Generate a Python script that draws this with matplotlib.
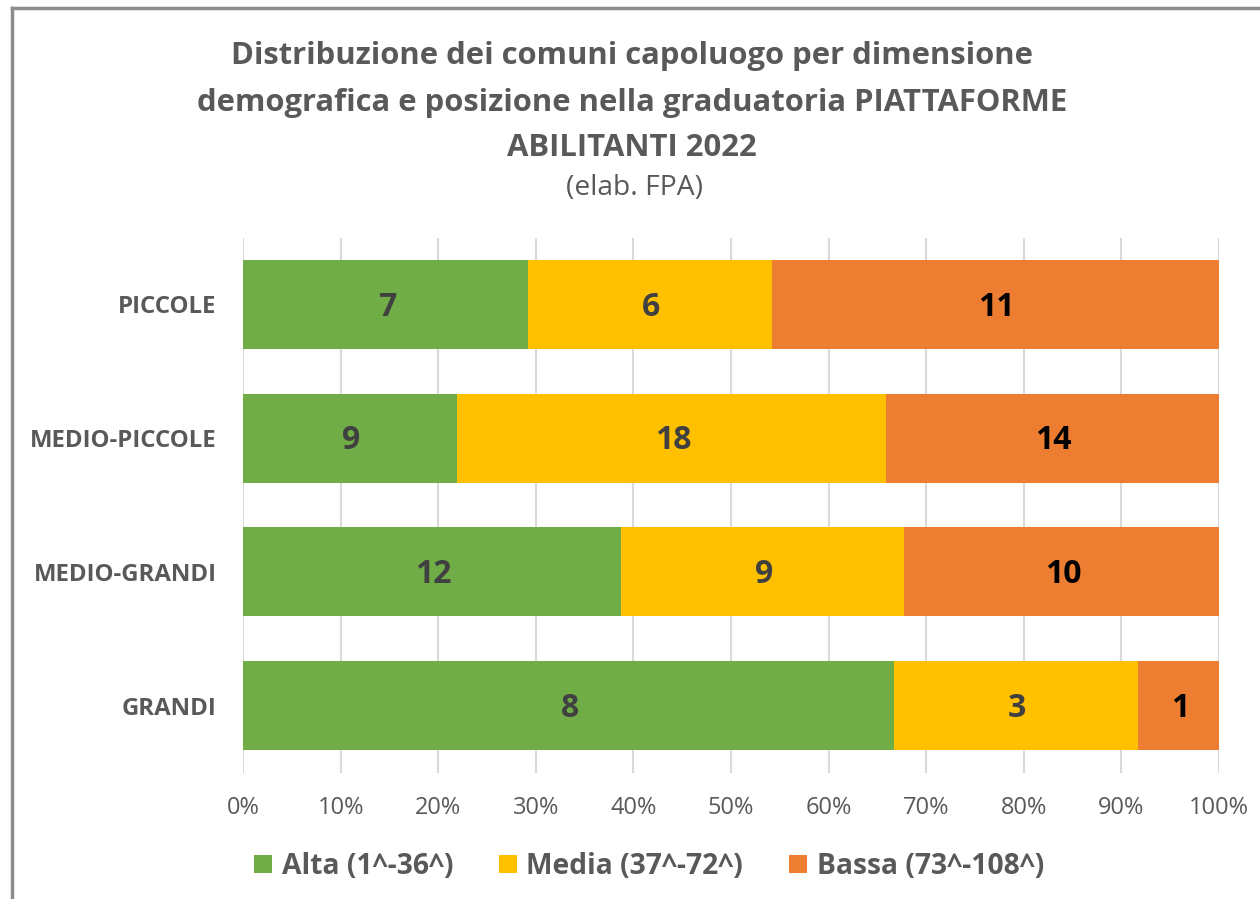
import matplotlib.pyplot as plt
from matplotlib.lines import Line2D
from matplotlib.ticker import PercentFormatter

plt.rcParams['font.family'] = ['Open Sans', 'DejaVu Sans']

categorie = ["PICCOLE", "MEDIO-PICCOLE", "MEDIO-GRANDI", "GRANDI"]
serie = ["Alta (1^-36^)", "Media (37^-72^)", "Bassa (73^-108^)"]
alta = [7, 9, 12, 8]
media = [6, 18, 9, 3]
bassa = [11, 14, 10, 1]

colori = ["#70AD47", "#FFC000", "#ED7D31"]
col_etichette = ["#404040", "#404040", "#000000"]
grigio = "#595959"

fig = plt.figure(figsize=(12.6, 8.99), dpi=100)
ax = fig.add_axes([0.1929, 0.1407, 0.7746, 0.5951])

totali = [a + m + b for a, m, b in zip(alta, media, bassa)]
pos = list(range(len(categorie)))
sinistra = [0.0] * len(categorie)
for nome, valori, col, col_t in zip(serie, [alta, media, bassa], colori, col_etichette):
    quote = [v / t for v, t in zip(valori, totali)]
    barre = ax.barh(pos, quote, left=sinistra, height=0.664, color=col, label=nome, zorder=3)
    testi = ax.bar_label(barre, labels=[str(v) for v in valori], label_type='center',
                         color=col_t, fontsize=23, fontweight='bold')
    for t in testi:
        t.xyann = (1, -2)
    sinistra = [s + q for s, q in zip(sinistra, quote)]

ax.set_xlim(0, 1)
ax.set_ylim(3.5, -0.5)
ax.set_xticks([i / 10 for i in range(11)])
ax.xaxis.set_major_formatter(PercentFormatter(1.0, decimals=0))
ax.set_yticks(pos)
ax.set_yticklabels(categorie, fontsize=17.3, fontweight='bold', color=grigio)
ax.tick_params(axis='x', labelsize=17, labelcolor=grigio, length=0, pad=17)
ax.tick_params(axis='y', length=0, pad=19)
ax.grid(axis='x', color="#D9D9D9", linewidth=1.5, zorder=0)
for s in ax.spines.values():
    s.set_visible(False)

titolo = ["Distribuzione dei comuni capoluogo per dimensione",
          "demografica e posizione nella graduatoria PIATTAFORME",
          "ABILITANTI 2022"]
for riga, y in zip(titolo, [0.938, 0.885, 0.835]):
    fig.text(0.5016, y, riga, ha='center', va='center', fontsize=22.3,
             fontweight='bold', color=grigio)
fig.text(0.5032, 0.791, "(elab. FPA)", ha='center', va='center', fontsize=20.3, color=grigio)

ax.legend(loc='center', bbox_to_anchor=(0.416, -0.175), ncol=3, frameon=False,
          prop={'size': 20.3, 'weight': 'bold'}, labelcolor=grigio,
          handlelength=0.62, handleheight=0.62, handletextpad=0.35, columnspacing=1.63)

fig.add_artist(Line2D([0.0093, 0.0093], [0, 0.991], color="#8C8C8C", linewidth=2.5))
fig.add_artist(Line2D([0.0093, 1], [0.991, 0.991], color="#8C8C8C", linewidth=2.5))

fig.savefig("out.png", dpi=100)
